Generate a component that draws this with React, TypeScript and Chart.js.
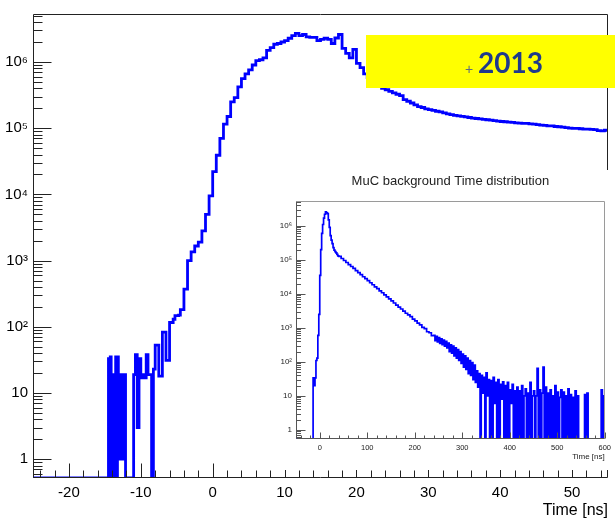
import React, { useEffect, useRef } from 'react';
import { Chart, registerables } from 'chart.js';

Chart.register(...registerables);

// ---------------- data ----------------
const mainXRange = [-25, 55];
const mainYRange = [0.52, 5.3e6];
const mainXTicks = [-20, -10, 0, 10, 20, 30, 40, 50];
const logTickValues = [1, 10, 100, 1e3, 1e4, 1e5, 1e6];
const logTickLabels = ['1', '10', '10²', '10³', '10⁴', '10⁵', '10⁶'];

// main histogram (empty before the first segment)
const mainFootStart = -14.5;
const mainFootWidth = 0.125;
const mainFootCounts = [
  33, 0, 35, 0, 19, 0, 19, 0, 35, 0,
  35, 1, 19, 1, 19, 1, 19, 1, 19, 0,
];
const mainNoiseStart = -12;
const mainNoiseWidth = 0.25;
const mainNoiseCounts = [
  0, 0, 0, 0, 19, 38, 3, 33, 17, 19,
  17, 38, 19, 19, 0, 23, 53, 53, 18, 18,
  83, 83, 31, 31, 116, 116, 130, 147, 147, 150,
  181, 181,
];
const mainBodyStart = -4;
const mainBodyWidth = 0.5;
const mainBodyCounts = [
  370, 1000, 1350, 1660, 1900, 2800, 5000, 9500,
  22000, 39000, 70000, 115000, 150000, 250000, 290000, 420000, 560000, 660000,
  760000, 900000, 1050000, 1080000, 1150000, 1500000, 1650000, 1850000, 1900000, 2000000,
  2100000, 2280000, 2500000, 2700000, 2500000, 2600000, 2400000, 2350000, 2350000, 2100000,
  2200000, 2280000, 2200000, 1900000, 2300000, 2600000, 1600000, 1350000, 1150000, 1550000,
  950000, 820000, 660000, 580000, 520000, 470000, 430000, 400000, 380000, 360000,
  340000, 325000, 310000, 270000, 255000, 240000, 225000, 212000, 205000, 196000,
  190000, 186000, 180000, 176000, 170000, 164000, 160000, 156000, 153000, 151000,
  148000, 145000, 142000, 140000, 138000, 136000, 134000, 132000, 130000, 128000,
  126000, 125000, 123000, 122000, 120000, 119000, 118000, 118000, 116000, 115000,
  113000, 111000, 110000, 108000, 108000, 106000, 105000, 104000, 102000, 100000,
  99000, 99000, 98000, 97000, 97000, 96000, 95000, 92000, 91000, 93000,
];

// inset histogram
const insetTitle = 'MuC background Time distribution';
const insetXRange = [-50, 600];
const insetYRange = [0.54, 5.4e6];
const insetXTicks = [0, 100, 200, 300, 400, 500, 600];
const insetPeakStart = -16;
const insetPeakWidth = 2;
const insetPeakCounts = [
  0, 34, 20, 34, 110, 130, 600, 2500, 35000, 200000, 600000, 1100000, 1700000, 2200000,
  2600000, 2400000, 2300000, 1500000, 900000, 520000, 380000, 300000, 230000, 195000,
  175000, 160000, 145000, 132000,
];
const insetDecayStart = 40;
const insetDecayWidth = 5;
const insetDecayCounts = [
  127000, 110000, 96000, 84000, 73000, 64000, 56000, 48500, 42400, 37000,
  32000, 28000, 24500, 21300, 18600, 16200, 14200, 12300, 10800, 9400,
  8200, 7100, 6200, 5400, 4700, 4100, 3600, 3100, 2700, 2400,
  2150, 1800, 1620, 1380, 1230, 1030, 950, 770, 720, 590,
];
const insetTailStart = 240;
const insetTailWidth = 2.5;
const insetTailCounts = [
  600, 420, 560, 390, 520, 350, 480, 320, 440, 290, 400, 260,
  360, 200, 320, 180, 290, 150, 260, 130, 230, 110, 200, 90,
  170, 70, 150, 60, 130, 45, 110, 40, 95, 30, 80, 25,
  55, 18, 45, 0, 40, 12, 35, 0, 48, 10, 30, 0,
  28, 0, 35, 6, 25, 0, 30, 0, 22, 8, 26, 0,
  20, 0, 25, 0, 15, 6, 22, 0, 14, 0, 18, 0,
  14, 0, 20, 0, 10, 16, 0, 12, 0, 25, 0, 10,
  14, 0, 10, 65, 0, 15, 0, 12, 70, 0, 18, 0,
  12, 0, 15, 0, 10, 0, 20, 0, 13, 0, 9, 15,
  0, 13, 0, 10, 0, 16, 0, 11, 0, 9, 0, 14,
  0, 10, 0, 0, 0, 0, 0, 11, 0, 12, 0, 0,
  0, 0, 0, 0, 0, 0, 0, 0, 0, 15, 0, 10,
];

// ---------------- helpers ----------------
const FONT = "'Liberation Sans', Arial, Helvetica, sans-serif";

type Seg = { start: number; width: number; counts: number[] };

function histPoints(xMin: number, xMax: number, segs: Seg[], floor: number) {
  const pts: { x: number; y: number }[] = [{ x: xMin, y: floor }];
  segs.forEach((s) => {
    s.counts.forEach((c, i) => {
      pts.push({ x: s.start + i * s.width, y: c > 0 ? c : floor });
    });
  });
  pts.push({ x: xMax, y: pts[pts.length - 1].y });
  return pts;
}

function logLabel(v: number) {
  const i = logTickValues.findIndex((t) => Math.abs(Math.log10(t) - Math.log10(v)) < 1e-6);
  return i >= 0 ? logTickLabels[i] : '';
}

const rootAxesPlugin = {
  id: 'rootAxes',
  afterDatasetsDraw(chart: any, _args: any, o: any) {
    const { ctx, chartArea: a } = chart;
    const xs = chart.scales.x;
    const ys = chart.scales.y;
    const L = Math.round(a.left) + 0.5;
    const R = Math.round(a.right) - 0.5;
    const T = Math.round(a.top) + 0.5;
    const B = Math.round(a.bottom) - 0.5;
    ctx.save();
    ctx.lineWidth = 1;
    ctx.strokeStyle = o.frameColor;
    ctx.beginPath();
    ctx.moveTo(L, T);
    ctx.lineTo(R, T);
    ctx.lineTo(R, B);
    ctx.stroke();
    ctx.strokeStyle = o.axisColor;
    ctx.beginPath();
    ctx.moveTo(L, T);
    ctx.lineTo(L, B);
    ctx.lineTo(R, B);
    ctx.stroke();
    ctx.beginPath();
    const start = Math.ceil(xs.min / o.xMinor) * o.xMinor;
    for (let v = start; v <= xs.max + 1e-9; v += o.xMinor) {
      const px = Math.round(xs.getPixelForValue(v)) + 0.5;
      const r = v / o.xMajor;
      const major = Math.abs(r - Math.round(r)) < 1e-6;
      ctx.moveTo(px, B);
      ctx.lineTo(px, B - (major ? o.xMajorLen : o.xMinorLen));
    }
    const e0 = Math.floor(Math.log10(ys.min));
    const e1 = Math.ceil(Math.log10(ys.max));
    for (let e = e0; e <= e1; e++) {
      for (let m = 1; m <= 9; m++) {
        const v = m * Math.pow(10, e);
        if (v < ys.min || v > ys.max) continue;
        const py = Math.round(ys.getPixelForValue(v)) + 0.5;
        ctx.moveTo(L, py);
        ctx.lineTo(L + (m === 1 ? o.yMajorLen : o.yMinorLen), py);
      }
    }
    ctx.stroke();
    ctx.restore();
  },
};

function mainConfig(): any {
  const data = histPoints(mainXRange[0], mainXRange[1], [
    { start: mainFootStart, width: mainFootWidth, counts: mainFootCounts },
    { start: mainNoiseStart, width: mainNoiseWidth, counts: mainNoiseCounts },
    { start: mainBodyStart, width: mainBodyWidth, counts: mainBodyCounts },
  ], mainYRange[0]);
  return {
    type: 'line',
    data: {
      datasets: [{
        data,
        borderColor: '#0000ff',
        borderWidth: 2.8,
        pointRadius: 0,
        stepped: 'before',
        fill: false,
      }],
    },
    plugins: [rootAxesPlugin],
    options: {
      animation: false,
      responsive: false,
      devicePixelRatio: 1,
      layout: { padding: { left: 0, right: 7, top: 6, bottom: 0 } },
      plugins: {
        legend: { display: false },
        tooltip: { enabled: false },
        rootAxes: {
          frameColor: '#222', axisColor: '#222',
          xMinor: 2, xMajor: 10, xMajorLen: 14, xMinorLen: 7,
          yMajorLen: 18, yMinorLen: 9,
        },
      },
      scales: {
        x: {
          type: 'linear', min: mainXRange[0], max: mainXRange[1],
          grid: { display: false, drawTicks: false },
          border: { display: false },
          afterBuildTicks: (s: any) => { s.ticks = mainXTicks.map((v) => ({ value: v })); },
          afterFit: (s: any) => { s.height = 44; },
          ticks: {
            autoSkip: false, maxRotation: 0, padding: 6, color: '#000',
            font: { family: FONT, size: 15 },
            callback: (v: any) => String(v),
          },
          title: {
            display: true, text: 'Time [ns]', align: 'end', color: '#000',
            font: { family: FONT, size: 16 }, padding: { top: 0, bottom: 2 },
          },
        },
        y: {
          type: 'logarithmic', min: mainYRange[0], max: mainYRange[1],
          grid: { display: false, drawTicks: false },
          border: { display: false },
          afterBuildTicks: (s: any) => { s.ticks = logTickValues.map((v) => ({ value: v })); },
          afterFit: (s: any) => { s.width = 33; },
          ticks: {
            autoSkip: false, padding: 5, color: '#000',
            font: { family: FONT, size: 15 },
            callback: (v: any) => logLabel(Number(v)),
          },
        },
      },
    },
  };
}

function insetConfig(): any {
  const data = histPoints(insetXRange[0], insetXRange[1], [
    { start: insetPeakStart, width: insetPeakWidth, counts: insetPeakCounts },
    { start: insetDecayStart, width: insetDecayWidth, counts: insetDecayCounts },
    { start: insetTailStart, width: insetTailWidth, counts: insetTailCounts },
  ], insetYRange[0]);
  return {
    type: 'line',
    data: {
      datasets: [{
        data,
        borderColor: '#0000ff',
        borderWidth: 1.7,
        pointRadius: 0,
        stepped: 'before',
        fill: false,
      }],
    },
    plugins: [rootAxesPlugin],
    options: {
      animation: false,
      responsive: false,
      devicePixelRatio: 1,
      layout: { padding: { left: 0, right: 8, top: 0, bottom: 0 } },
      plugins: {
        legend: { display: false },
        tooltip: { enabled: false },
        title: {
          display: true, text: insetTitle, fullSize: false, color: '#222',
          font: { family: FONT, size: 13, weight: 'normal' },
          padding: { top: 3.4, bottom: 12 },
        },
        rootAxes: {
          frameColor: '#9a9a9a', axisColor: '#555',
          xMinor: 20, xMajor: 100, xMajorLen: 6, xMinorLen: 3,
          yMajorLen: 9, yMinorLen: 4.5,
        },
      },
      scales: {
        x: {
          type: 'linear', min: insetXRange[0], max: insetXRange[1],
          grid: { display: false, drawTicks: false },
          border: { display: false },
          afterBuildTicks: (s: any) => { s.ticks = insetXTicks.map((v) => ({ value: v })); },
          afterFit: (s: any) => { s.height = 31; },
          ticks: {
            autoSkip: false, maxRotation: 0, padding: 4, color: '#222',
            font: { family: FONT, size: 7.5 },
            callback: (v: any) => String(v),
          },
          title: {
            display: true, text: 'Time [ns]', align: 'end', color: '#222',
            font: { family: FONT, size: 8 }, padding: { top: 0, bottom: 8 },
          },
        },
        y: {
          type: 'logarithmic', min: insetYRange[0], max: insetYRange[1],
          grid: { display: false, drawTicks: false },
          border: { display: false },
          afterBuildTicks: (s: any) => { s.ticks = logTickValues.map((v) => ({ value: v })); },
          afterFit: (s: any) => { s.width = 34; },
          ticks: {
            autoSkip: false, padding: 4, color: '#222',
            font: { family: FONT, size: 8 },
            callback: (v: any) => logLabel(Number(v)),
          },
        },
      },
    },
  };
}

export default function App() {
  const mainRef = useRef<HTMLCanvasElement>(null);
  const insetRef = useRef<HTMLCanvasElement>(null);

  useEffect(() => {
    const main = new Chart(mainRef.current as HTMLCanvasElement, mainConfig());
    const inset = new Chart(insetRef.current as HTMLCanvasElement, insetConfig());
    return () => {
      main.destroy();
      inset.destroy();
    };
  }, []);

  return (
    <div style={{ position: 'fixed', left: 0, top: 0, width: 615, height: 522, background: '#fff', overflow: 'hidden' }}>
      <canvas ref={mainRef} width={615} height={522} style={{ position: 'absolute', left: 0, top: 0 }} />
      <canvas ref={insetRef} width={353} height={300} style={{ position: 'absolute', left: 262, top: 170, background: '#fff' }} />
      <div style={{ position: 'absolute', left: 366, top: 35, width: 249, height: 53, background: '#ffff00' }} />
      <span style={{ position: 'absolute', left: 465, top: 60, fontFamily: FONT, fontSize: 14, lineHeight: '18px', color: '#5d6b80' }}>+</span>
      <span style={{ position: 'absolute', left: 478, top: 36, fontFamily: "Lato, 'Open Sans', sans-serif", fontWeight: 700, fontSize: 28, lineHeight: '53px', color: '#1f3a8c' }}>2013</span>
    </div>
  );
}
